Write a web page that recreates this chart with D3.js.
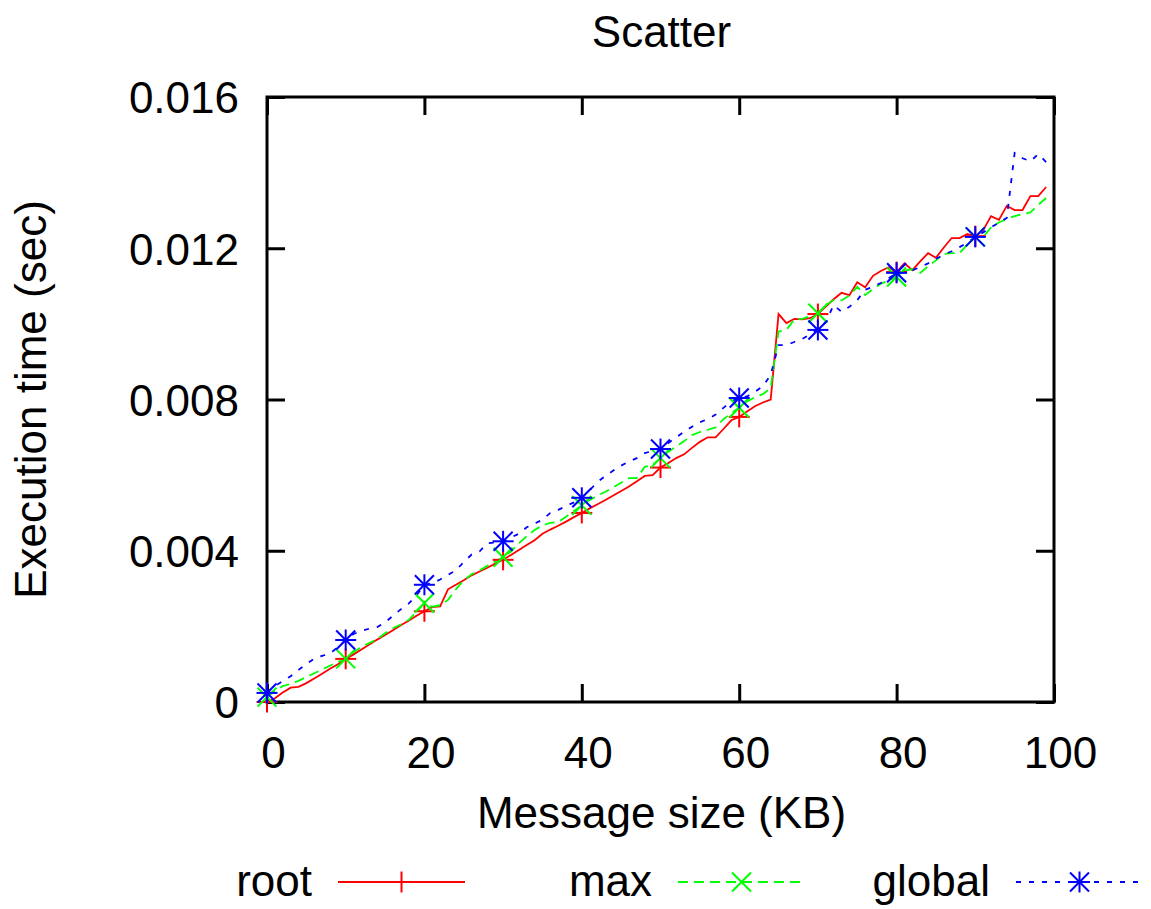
<!DOCTYPE html>
<html>
<head>
<meta charset="utf-8">
<script src="https://cdn.jsdelivr.net/npm/d3@7"></script>
<style>
  html, body { margin: 0; padding: 0; background: #fff; }
  text { font-family: "Liberation Sans", Arial, sans-serif; fill: #000; }
</style>
</head>
<body>
<svg id="chart" width="1151" height="909"></svg>
<script>
// ---- data ----
const messageSizes = [0,1,2,3,4,5,6,7,8,9,10,11,12,13,14,15,16,17,18,19,20,21,22,23,24,25,26,27,28,29,30,31,32,33,34,35,36,37,38,39,40,41,42,43,44,45,46,47,48,49,50,51,52,53,54,55,56,57,58,59,60,61,62,63,64,65,66,67,68,69,70,71,72,73,74,75,76,77,78,79,80,81,82,83,84,85,86,87,88,89,90,91,92,93,94,95,96,97,98,99];

const rootTimes = [0.00000,0.00010,0.00025,0.00038,0.00040,0.00050,0.00062,0.00075,0.00088,0.00100,
  0.00114,0.00126,0.00139,0.00152,0.00165,0.00177,0.00190,0.00203,0.00215,0.00228,
  0.00240,0.00251,0.00253,0.00298,0.00310,0.00322,0.00335,0.00345,0.00355,0.00366,
  0.00376,0.00389,0.00402,0.00415,0.00428,0.00445,0.00456,0.00466,0.00477,0.00489,
  0.00500,0.00512,0.00523,0.00534,0.00546,0.00558,0.00570,0.00584,0.00598,0.00600,
  0.00620,0.00632,0.00645,0.00655,0.00672,0.00688,0.00700,0.00700,0.00722,0.00745,
  0.00754,0.00768,0.00782,0.00792,0.00800,0.01026,0.01002,0.01013,0.01012,0.01015,
  0.01026,0.01046,0.01065,0.01082,0.01076,0.01110,0.01097,0.01127,0.01140,0.01150,
  0.01137,0.01160,0.01142,0.01165,0.01187,0.01175,0.01202,0.01227,0.01227,0.01238,
  0.01232,0.01248,0.01285,0.01275,0.01312,0.01301,0.01301,0.01338,0.01338,0.01362];

const maxTimes = [0.00013,0.00030,0.00042,0.00048,0.00056,0.00066,0.00076,0.00086,0.00096,0.00106,
  0.00114,0.00132,0.00145,0.00156,0.00166,0.00182,0.00195,0.00205,0.00217,0.00238,
  0.00262,0.00252,0.00256,0.00270,0.00298,0.00322,0.00338,0.00348,0.00360,0.00372,
  0.00383,0.00398,0.00420,0.00438,0.00455,0.00467,0.00474,0.00476,0.00490,0.00505,
  0.00520,0.00534,0.00546,0.00556,0.00568,0.00580,0.00592,0.00592,0.00622,0.00627,
  0.00645,0.00662,0.00676,0.00690,0.00706,0.00714,0.00720,0.00726,0.00748,0.00764,
  0.00778,0.00795,0.00806,0.00814,0.00830,0.00980,0.00984,0.01012,0.01013,0.01020,
  0.01028,0.01050,0.01063,0.01062,0.01075,0.01098,0.01076,0.01092,0.01106,0.01115,
  0.01124,0.01140,0.01145,0.01135,0.01152,0.01168,0.01185,0.01187,0.01187,0.01210,
  0.01230,0.01230,0.01255,0.01268,0.01278,0.01285,0.01290,0.01295,0.01315,0.01333];

const globalTimes = [0.00024,0.00042,0.00055,0.00068,0.00085,0.00100,0.00115,0.00122,0.00128,0.00145,
  0.00164,0.00180,0.00188,0.00194,0.00198,0.00210,0.00228,0.00245,0.00260,0.00282,
  0.00310,0.00314,0.00324,0.00336,0.00348,0.00370,0.00390,0.00398,0.00420,0.00422,
  0.00425,0.00435,0.00445,0.00462,0.00472,0.00482,0.00500,0.00508,0.00518,0.00528,
  0.00540,0.00560,0.00582,0.00598,0.00612,0.00625,0.00636,0.00645,0.00658,0.00664,
  0.00669,0.00685,0.00700,0.00715,0.00728,0.00740,0.00748,0.00760,0.00778,0.00795,
  0.00804,0.00808,0.00820,0.00835,0.00865,0.00944,0.00944,0.00952,0.00960,0.00972,
  0.00984,0.01005,0.01050,0.01032,0.01045,0.01063,0.01090,0.01098,0.01108,0.01121,
  0.01135,0.01136,0.01142,0.01150,0.01160,0.01172,0.01183,0.01192,0.01203,0.01215,
  0.01230,0.01242,0.01255,0.01268,0.01280,0.01452,0.01438,0.01430,0.01449,0.01428];

const seriesNames = ["root", "max", "global"];
const xTicks = [0, 20, 40, 60, 80, 100];
const yTicks = [0, 0.004, 0.008, 0.012, 0.016];
const yTickLabels = ["0", "0.004", "0.008", "0.012", "0.016"];

// ---- layout ----
const svg = d3.select("#chart");
const L = 267, R = 1054, T = 97, B = 702;
const FS = 44;
const x = d3.scaleLinear().domain([0, 100]).range([L, R]);
const y = d3.scaleLinear().domain([0, 0.016]).range([B, T]);

const styles = [
  { color: "#ff0000", dash: null, marker: "plus" },
  { color: "#00ff00", dash: "10,6", marker: "cross" },
  { color: "#0000ff", dash: "5,8", marker: "star" }
];
const seriesValues = [rootTimes, maxTimes, globalTimes];

function drawMarker(g, type, cx, cy, color) {
  const s = 10.5, d = 9.5;
  const segs = [];
  if (type === "plus" || type === "star") {
    segs.push([cx - s, cy, cx + s, cy], [cx, cy - s, cx, cy + s]);
  }
  if (type === "cross" || type === "star") {
    segs.push([cx - d, cy - d, cx + d, cy + d], [cx - d, cy + d, cx + d, cy - d]);
  }
  segs.forEach(p => g.append("line")
    .attr("x1", p[0]).attr("y1", p[1]).attr("x2", p[2]).attr("y2", p[3])
    .attr("stroke", color).attr("stroke-width", 2));
}

// ---- axes (gnuplot style: inward ticks, mirrored) ----
const bottomAxis = d3.axisBottom(x).tickValues(xTicks).tickSize(-18).tickFormat(d => d);
const topAxis = d3.axisTop(x).tickValues(xTicks).tickSize(-18).tickFormat("");
const leftAxis = d3.axisLeft(y).tickValues(yTicks).tickSize(-18).tickFormat((d, i) => yTickLabels[i]);
const rightAxis = d3.axisRight(y).tickValues(yTicks).tickSize(-18).tickFormat("");

function styleAxis(g) {
  g.select(".domain").remove();
  g.selectAll(".tick line").attr("stroke", "#000").attr("stroke-width", 3);
  g.selectAll(".tick text").style("font-size", FS + "px").attr("fill", "#000");
}
const gb = svg.append("g").attr("transform", `translate(0,${B})`).call(bottomAxis).call(styleAxis);
gb.selectAll(".tick text").attr("y", 0).attr("dy", 0)
  .attr("transform", "translate(6,66)");
svg.append("g").attr("transform", `translate(0,${T})`).call(topAxis).call(styleAxis);
const gl = svg.append("g").attr("transform", `translate(${L},0)`).call(leftAxis).call(styleAxis);
gl.selectAll(".tick text").attr("x", -28).attr("dy", "0.36em");
svg.append("g").attr("transform", `translate(${R},0)`).call(rightAxis).call(styleAxis);

// border
svg.append("rect").attr("x", L).attr("y", T).attr("width", R - L).attr("height", B - T)
  .attr("fill", "none").attr("stroke", "#000").attr("stroke-width", 3);

// ---- series ----
const line = d3.line().x((d, i) => x(messageSizes[i])).y(d => y(d));
seriesValues.forEach((vals, k) => {
  const st = styles[k];
  svg.append("path").datum(vals).attr("d", line)
    .attr("fill", "none").attr("stroke", st.color).attr("stroke-width", 1.8)
    .attr("stroke-dasharray", st.dash);
});
seriesValues.forEach((vals, k) => {
  const st = styles[k];
  const g = svg.append("g");
  vals.forEach((v, i) => {
    if (messageSizes[i] % 10 === 0) drawMarker(g, st.marker, x(messageSizes[i]), y(v), st.color);
  });
});

// ---- titles ----
svg.append("text").attr("x", (L + R) / 2 + 1).attr("y", 47).attr("text-anchor", "middle")
  .style("font-size", FS + "px").text("Scatter");
svg.append("text").attr("x", (L + R) / 2 + 1).attr("y", 828).attr("text-anchor", "middle")
  .style("font-size", FS + "px").text("Message size (KB)");
svg.append("text").attr("transform", `translate(46,${(T + B) / 2}) rotate(-90)`)
  .attr("text-anchor", "middle").style("font-size", FS + "px").text("Execution time (sec)");

// ---- legend ----
const legendTextEnd = [312, 652, 990];
const legendY = 882;
seriesNames.forEach((name, k) => {
  const st = styles[k];
  const g = svg.append("g");
  g.append("text").attr("x", legendTextEnd[k]).attr("y", legendY + 14)
    .attr("text-anchor", "end").style("font-size", FS + "px").text(name);
  const x0 = legendTextEnd[k] + 26, x1 = x0 + 127;
  g.append("line").attr("x1", x0).attr("x2", x1).attr("y1", legendY).attr("y2", legendY)
    .attr("stroke", st.color).attr("stroke-width", 1.8).attr("stroke-dasharray", st.dash);
  drawMarker(g, st.marker, (x0 + x1) / 2, legendY, st.color);
});
</script>
</body>
</html>
